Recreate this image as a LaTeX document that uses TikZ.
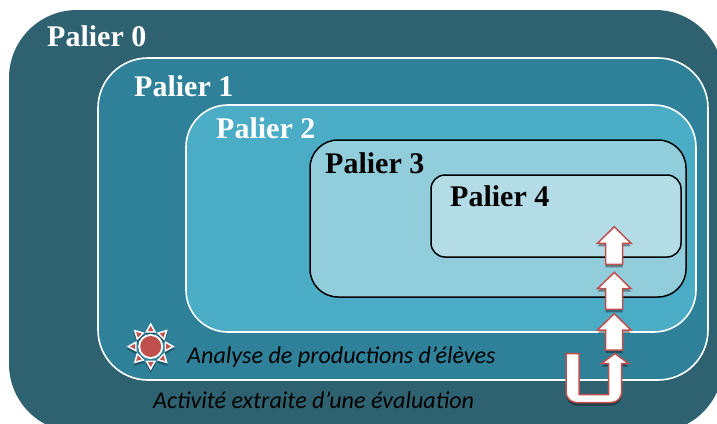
\documentclass[tikz,border=0pt]{standalone}
\usepackage{fontspec}
\setmainfont{Liberation Serif}
\newfontfamily\capt{Carlito}
\definecolor{pz}{HTML}{2F6270}
\definecolor{pa}{HTML}{2F8099}
\definecolor{pb}{HTML}{4BACC6}
\definecolor{pc}{HTML}{92CDDC}
\definecolor{pd}{HTML}{B4DCE7}
\definecolor{redl}{HTML}{C0504D}
\tikzset{
  tier/.style={anchor=north west,rectangle,inner sep=0pt,outer sep=0pt},
  tierw/.style={tier,draw=white,line width=1.6pt},
  tierk/.style={tier,draw=black,line width=1.5pt},
  lab/.style={anchor=base west,inner sep=0pt,font=\fontsize{30}{32}\selectfont\bfseries},
  captxt/.style={anchor=base west,inner sep=0pt,font=\capt\itshape\fontsize{24.1}{26}\selectfont,text=black},
  arrowf/.style={fill=white,draw=redl,line width=1.5pt,line join=miter},
  arrowsh/.style={fill=black,fill opacity=.38,draw=none},
}
% tip y, head base y, bottom y
\newcommand{\uparr}[3]{%
  \path[arrowsh,yshift=-3pt] (614.3,#1) -- (631,#2) -- (622.7,#2) -- (622.7,#3) -- (605.6,#3) -- (605.6,#2) -- (597.5,#2) -- cycle;
  \path[arrowf] (614.3,#1) -- (631,#2) -- (622.7,#2) -- (622.7,#3) -- (605.6,#3) -- (605.6,#2) -- (597.5,#2) -- cycle;
}
\newcommand{\uturnpath}{(615,353.5) -- (628.5,363.5) -- (621.7,363.5) -- (621.7,392) arc[start angle=0,end angle=90,radius=10.5] -- (576.5,402.5) arc[start angle=90,end angle=180,radius=10.5] -- (566,353.5) -- (579,353.5) -- (579,394.5) -- (608.5,394.5) -- (608.5,363.5) -- (601.5,363.5) -- cycle}
\begin{document}
\begin{tikzpicture}[x=1pt,y=-1pt]
\clip (0,0) rectangle (717,423);
\fill[white] (0,0) rectangle (717,423);
\node[tier,fill=pz,rounded corners=68pt,minimum width=714pt,minimum height=422pt] (p0) at (9,10) {};
\node[tierw,fill=pa,rounded corners=50pt,minimum width=610pt,minimum height=322pt] (p1) at (98,58) {};
\node[tierw,fill=pb,rounded corners=42pt,minimum width=510pt,minimum height=227pt] (p2) at (186,105) {};
\node[tierk,fill=pc,rounded corners=28pt,minimum width=376pt,minimum height=157pt] (p3) at (310,140) {};
\node[tierk,fill=pd,rounded corners=14pt,minimum width=250pt,minimum height=82pt] (p4) at (431,175) {};
\node[lab,text=white] (l0) at (47,46) {Palier 0};
\node[lab,text=white] (l1) at (134,96) {Palier 1};
\node[lab,text=white] (l2) at (216,138) {Palier 2};
\node[lab,text=black] (l3) at (325,173) {Palier 3};
\node[lab,text=black] (l4) at (450,206) {Palier 4};
\node[captxt] (c1) at (187,363) {Analyse de productions d’élèves};
\node[captxt] (c2) at (153,408) {Activité extraite d’une évaluation};
% sun
\begin{scope}[shift={(150.7,346.5)}]
  \foreach \a in {0,45,...,315}{
    \fill[black,opacity=.3,yshift=-2.5pt,rotate=\a] (14,-5.5) -- (24,0) -- (14,5.5) -- cycle;
    \fill[white,rotate=\a] (14,-5.5) -- (24,0) -- (14,5.5) -- cycle;
    \fill[redl,rotate=\a] (15.5,-2.8) -- (20.5,0) -- (15.5,2.8) -- cycle;
  }
  \fill[white] (0,0) circle[radius=12.5];
  \fill[redl] (0,0) circle[radius=10.5];
\end{scope}
% arrows
\uparr{226.7}{243.3}{264.3}
\uparr{272.3}{288.7}{309.3}
\uparr{313.7}{330}{350}
\path[arrowsh,yshift=-3pt] \uturnpath;
\path[arrowf] \uturnpath;
\end{tikzpicture}
\end{document}
